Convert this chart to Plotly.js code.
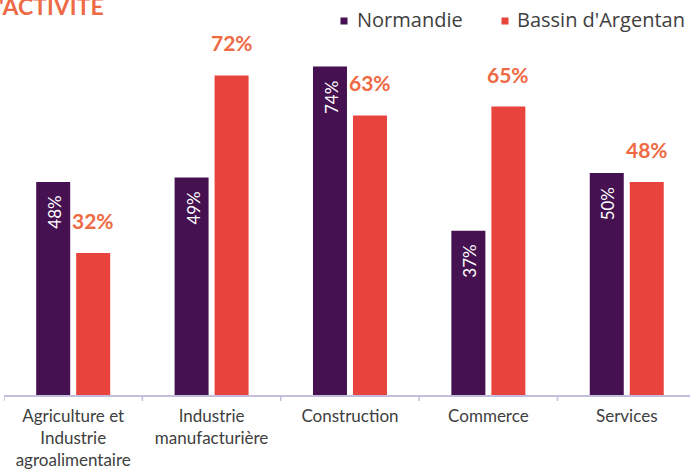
<!DOCTYPE html>
<html>
<head>
<meta charset="utf-8">
<script src="https://cdn.plot.ly/plotly-3.0.1.min.js"></script>
<style>html,body{margin:0;padding:0;background:#fff;}#chart{width:690px;height:473px;}</style>
</head>
<body>
<div id="chart"></div>
<script>
const categories = ["Agriculture et<br>Industrie<br>agroalimentaire", "Industrie<br>manufacturière", "Construction", "Commerce", "Services"];
const normandie = [48, 49, 74, 37, 50];
const argentan = [32, 72, 63, 65, 48];
const seriesNames = ["Normandie", "Bassin d'Argentan"];
const titleText = "'ACTIVITÉ";

const purple = "#451150";
const red = "#e8433d";
const orange = "#ee6a45";
const fontFam = "Lato, 'Open Sans', sans-serif";
const legendFont = {family: "'Open Sans', sans-serif", size: 20, color: "#404040"};

const xIdx = categories.map((c, i) => i);

const traces = [
  {type: "bar", name: seriesNames[0], x: xIdx, y: normandie, marker: {color: purple}, showlegend: false, hoverinfo: "none"},
  {type: "bar", name: seriesNames[1], x: xIdx, y: argentan, marker: {color: red}, showlegend: false, hoverinfo: "none"}
];

const annotations = [];
xIdx.forEach(i => {
  annotations.push({x: i, y: normandie[i], xref: "x", yref: "y", text: normandie[i] + "%", showarrow: false,
    textangle: -90, xshift: -19, yanchor: "top", yshift: -12,
    font: {family: fontFam, size: 17, color: "#ffffff"}});
  annotations.push({x: i, y: argentan[i], xref: "x", yref: "y", text: "<b>" + argentan[i] + "%</b>", showarrow: false,
    xshift: 20, yanchor: "bottom", yshift: 18,
    font: {family: fontFam, size: 21, color: orange}});
});
annotations.push({x: 0, y: 1, xref: "paper", yref: "paper", xanchor: "left", yanchor: "top", xshift: -7, yshift: 10,
  text: "<b>" + titleText + "</b>", showarrow: false, font: {family: fontFam, size: 23, color: orange}});

// legend built from the series names
const W = 686;
annotations.push({x: (355 - 4) / W, y: 1, xref: "paper", yref: "paper", xanchor: "left", yanchor: "middle", yshift: -19,
  text: seriesNames[0], showarrow: false, font: legendFont});
annotations.push({x: (515 - 4) / W, y: 1, xref: "paper", yref: "paper", xanchor: "left", yanchor: "middle", yshift: -19,
  text: seriesNames[1], showarrow: false, font: legendFont});

const legendSquare = (px, color) => ({type: "rect", xref: "paper", yref: "paper", xsizemode: "pixel", ysizemode: "pixel",
  xanchor: (px - 4) / W, yanchor: 1, x0: -3.5, x1: 3.5, y0: -17.5, y1: -24.5, line: {width: 0}, fillcolor: color});

const shapes = [0, 1, 2, 3, 4].map(i => ({type: "line", xref: "x", yref: "paper", x0: i - 0.5, x1: i - 0.5,
  ysizemode: "pixel", yanchor: 0, y0: 0, y1: -6, line: {color: "#c4bedd", width: 1.5}}));
shapes.push(legendSquare(344, purple));
shapes.push(legendSquare(505, red));

const layout = {
  width: 690, height: 473,
  margin: {l: 4, r: 0, t: 0, b: 78, autoexpand: false},
  paper_bgcolor: "#fff", plot_bgcolor: "#fff",
  barmode: "group", bargap: 0.422, bargroupgap: 0.15,
  showlegend: false,
  font: {family: fontFam, size: 17, color: "#404040"},
  xaxis: {
    range: [-0.5, 4.457], tickmode: "array", tickvals: xIdx, ticktext: categories,
    showline: true, linecolor: "#c4bedd", linewidth: 1.5,
    ticks: "", showgrid: false, zeroline: false, ticklabelstandoff: 5, automargin: false,
    tickfont: {family: fontFam, size: 17, color: "#404040"}
  },
  yaxis: {range: [0, 89], visible: false, showgrid: false, zeroline: false},
  shapes: shapes,
  annotations: annotations
};

Plotly.newPlot("chart", traces, layout, {displayModeBar: false, staticPlot: true});
</script>
</body>
</html>
